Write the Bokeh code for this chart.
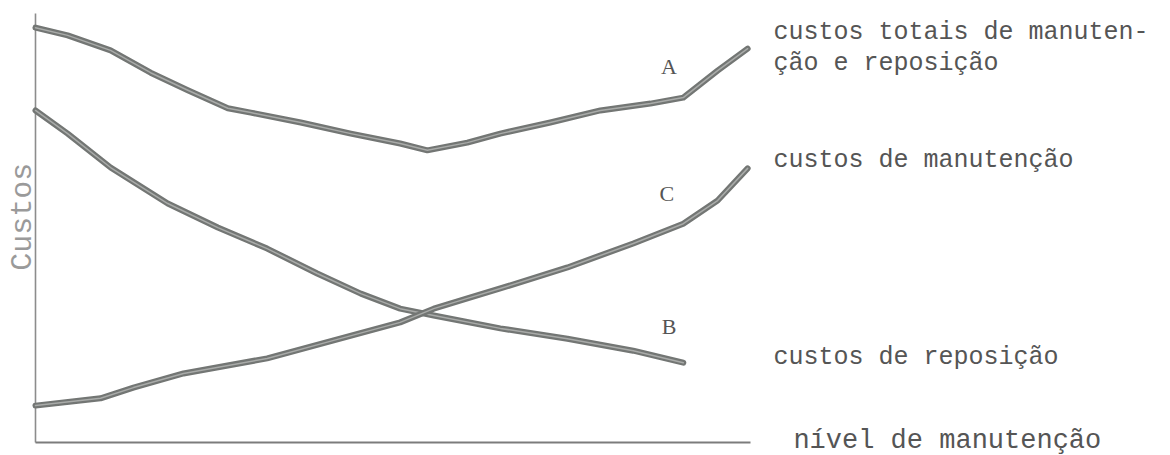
from bokeh.plotting import figure
from bokeh.models import Range1d
from bokeh.core.properties import value
from bokeh.embed import file_html
from bokeh.resources import INLINE

# Maintenance level (x) and cost (y) readings for each curve
total_x = [0, 0.45, 1.05, 1.61, 2.13, 2.69, 3.01, 3.71, 4.41, 5.10, 5.48,
           6.04, 6.50, 7.20, 7.90, 8.60, 9.06, 9.54, 9.96]
total_y = [96.7, 94.9, 91.4, 86.2, 82.1, 77.9, 76.9, 74.6, 72.0, 69.7, 68.1,
           69.9, 72.0, 74.6, 77.4, 79.0, 80.4, 86.7, 91.8]

repos_x = [0, 0.45, 1.05, 1.85, 2.55, 3.24, 3.94, 4.55, 5.10, 5.57, 6.50,
           7.44, 8.36, 9.06]
repos_y = [77.4, 72.0, 64.1, 55.7, 50.1, 45.2, 39.4, 34.7, 31.2, 29.6, 26.6,
           24.2, 21.4, 18.6]

manut_x = [0, 0.91, 1.37, 2.07, 3.24, 4.17, 5.10, 5.57, 6.04, 6.50, 7.44,
           8.36, 9.06, 9.54, 9.96]
manut_y = [8.6, 10.3, 12.8, 16.1, 19.6, 23.8, 28.0, 31.2, 33.6, 35.9, 40.8,
           46.4, 51.0, 56.4, 63.9]

curve_letters = ["A", "C", "B"]
letter_x = [8.86, 8.83, 8.86]
letter_y = [87.6, 58.0, 27.0]

curve_names = ["custos totais de manuten-", "ção e reposição",
               "custos de manutenção", "custos de reposição"]
name_y = [95.6, 88.3, 65.7, 19.8]
x_title = "nível de manutenção"
y_title = "Custos"

W, H = 1170, 455
p = figure(width=W, height=H, output_backend="svg", toolbar_location=None,
           x_range=Range1d(-0.4895, 15.874), y_range=Range1d(-3.03, 103.03),
           min_border=0, outline_line_color=None)
p.xaxis.visible = False
p.yaxis.visible = False
p.xgrid.visible = False
p.ygrid.visible = False
p.background_fill_color = "white"
p.border_fill_color = "white"

# axes drawn as plain strokes
p.line([0, 0], [0, 100], line_color="#8c8c8c", line_width=1.6)
p.line([0, 10], [0, 0], line_color="#7c7c7c", line_width=1.8)

# thick pencil-like curves: dark body with a lighter core
for xs, ys in [(total_x, total_y), (repos_x, repos_y), (manut_x, manut_y)]:
    p.line(xs, ys, line_color="#737674", line_width=6, line_join="round", line_cap="round")
    p.line(xs, ys, line_color="#a9aba9", line_width=1.5, line_join="round", line_cap="round")

p.text(letter_x, letter_y, text=curve_letters, text_font=value("Liberation Serif"),
       text_font_size="22px", text_color="#555555", text_align="center",
       text_baseline="middle")

p.text([10.32] * 4, name_y, text=curve_names, text_font=value("Liberation Mono"),
       text_font_size="25px", text_color="#555555", text_align="left",
       text_baseline="middle")

p.text([10.60], [0.3], text=[x_title], text_font=value("Liberation Mono"),
       text_font_size="27px", text_color="#555555", text_align="left",
       text_baseline="middle")

p.text([-0.17], [52.6], text=[y_title], text_font=value("Liberation Mono"),
       text_font_size="30px", text_color="#9a9a9a", text_align="center",
       text_baseline="middle", angle=1.5708)

open("out.html", "w").write(file_html(p, INLINE))
